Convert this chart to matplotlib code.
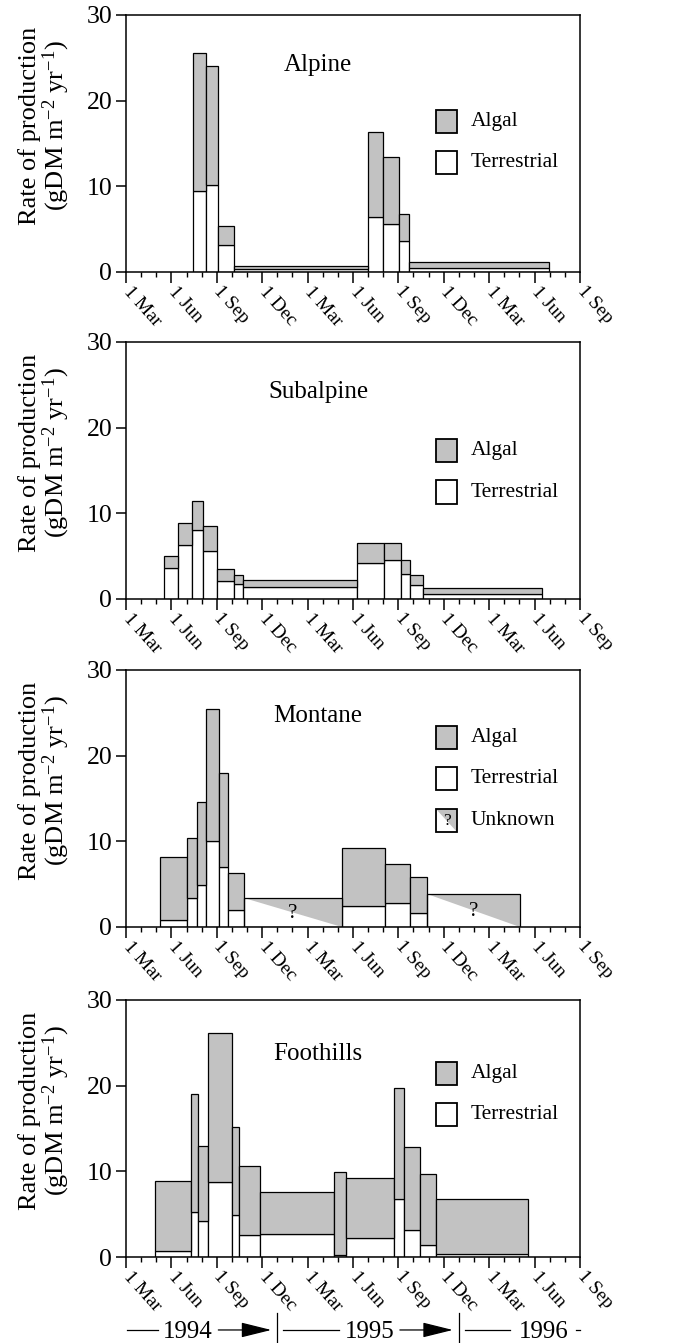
import numpy as np
import matplotlib
matplotlib.use("Agg")
import matplotlib.pyplot as plt
from matplotlib.patches import Polygon, Rectangle
from matplotlib.transforms import blended_transform_factory, ScaledTranslation

plt.rcParams['font.family'] = ['Liberation Serif', 'DejaVu Serif']
plt.rcParams['mathtext.fontset'] = 'custom'
plt.rcParams['mathtext.rm'] = 'Liberation Serif'
plt.rcParams['mathtext.it'] = 'Liberation Serif:italic'

GRAY = '#c2c2c2'

# x axis in months since 1 Mar 1994
tick_months = np.arange(0, 31, 3)
tick_labels = ['1 Mar', '1 Jun', '1 Sep', '1 Dec'] * 2 + ['1 Mar', '1 Jun', '1 Sep']

# interval edges (months), terrestrial and total production per interval
alpine_edges = [4.41, 5.29, 6.10, 7.14, 16.0, 16.98, 18.06, 18.70, 27.95]
alpine_terr = [9.4, 10.1, 3.1, 0.35, 6.4, 5.6, 3.6, 0.5]
alpine_total = [25.6, 24.0, 5.4, 0.7, 16.3, 13.4, 6.8, 1.2]

subalpine_edges = [2.53, 3.41, 4.34, 5.11, 6.01, 7.11, 7.73, 15.26, 17.07,
                   18.15, 18.79, 19.6, 27.51]
subalpine_terr = [3.6, 6.25, 8.0, 5.6, 2.15, 1.7, 1.4, 4.2, 4.6, 2.9, 1.65, 0.6]
subalpine_total = [5.0, 8.9, 11.45, 8.5, 3.5, 2.8, 2.2, 6.55, 6.55, 4.55, 2.85, 1.3]

# nan = terrestrial/algal split unknown
montane_edges = [2.27, 4.05, 4.69, 5.29, 6.15, 6.76, 7.80, 14.25, 17.14,
                 18.79, 19.91, 26.06]
montane_terr = [0.85, 3.35, 4.85, 10.0, 6.95, 2.0, np.nan, 2.45, 2.8, 1.65, np.nan]
montane_total = [8.15, 10.35, 14.55, 25.4, 18.0, 6.3, 3.4, 9.2, 7.3, 5.8, 3.9]

foothills_edges = [1.92, 4.30, 4.78, 5.40, 6.98, 7.49, 8.83, 13.77, 14.54,
                   17.73, 18.35, 19.43, 20.46, 26.56]
foothills_terr = [0.75, 5.2, 4.2, 8.8, 4.95, 2.6, 2.7, 0.25, 2.2, 6.75, 3.15, 1.4, 0.3]
foothills_total = [8.85, 19.0, 12.95, 26.1, 15.2, 10.6, 7.6, 9.9, 9.25, 19.75,
                   12.9, 9.75, 6.8]

years = ["1994", "1995", "1996"]

panels = [
    ("Alpine", alpine_edges, alpine_terr, alpine_total, 0.805, [0.541, 0.381]),
    ("Subalpine", subalpine_edges, subalpine_terr, subalpine_total, 0.805, [0.531, 0.371]),
    ("Montane", montane_edges, montane_terr, montane_total, 0.82, [0.691, 0.531, 0.369]),
    ("Foothills", foothills_edges, foothills_terr, foothills_total, 0.79, [0.668, 0.51]),
]

fig = plt.figure(figsize=(6.94, 13.43), dpi=100)
ax_left, ax_w, ax_h = 0.1816, 0.654, 0.1914
bottoms = [0.7975, 0.554, 0.3098, 0.064]

LW = 0.9


def draw_legend(ax, ys):
    x0, w, h = 0.683, 0.046, 0.09
    names = ["Algal", "Terrestrial", "Unknown"]
    for i, y in enumerate(ys):
        if i == 0:
            ax.add_patch(Rectangle((x0, y), w, h, transform=ax.transAxes,
                                   fc=GRAY, ec='black', lw=1.3, clip_on=False))
        elif i == 1:
            ax.add_patch(Rectangle((x0, y), w, h, transform=ax.transAxes,
                                   fc='white', ec='black', lw=1.3, clip_on=False))
        else:
            ax.add_patch(Polygon([(x0, y + h), (x0 + w, y + h), (x0 + w, y)],
                                 closed=True, transform=ax.transAxes,
                                 fc=GRAY, ec='none', clip_on=False))
            ax.add_patch(Rectangle((x0, y), w, h, transform=ax.transAxes,
                                   fill=False, ec='black', lw=1.3, clip_on=False))
            ax.text(x0 + w / 2, y + h / 2, "?", transform=ax.transAxes,
                    ha='center', va='center', fontsize=12.5)
        ax.text(0.760, y + h / 2, names[i], transform=ax.transAxes,
                ha='left', va='center', fontsize=15.5)


for (name, edges, terr, total, ty, leg_y), b in zip(panels, bottoms):
    ax = fig.add_axes([ax_left, b, ax_w, ax_h])
    edges = np.array(edges)
    terr = np.array(terr, dtype=float)
    total = np.array(total, dtype=float)
    left = edges[:-1]
    width = np.diff(edges)
    known = ~np.isnan(terr)

    ax.bar(left[known], terr[known], width[known], align='edge',
           color='white', edgecolor='black', lw=LW, zorder=2)
    ax.bar(left[known], total[known] - terr[known], width[known],
           bottom=terr[known], align='edge', color=GRAY, edgecolor='black',
           lw=LW, zorder=2)
    for l, w, t in zip(left[~known], width[~known], total[~known]):
        ax.add_patch(Polygon([(l, t), (l + w, t), (l + w, 0)], closed=True,
                             fc=GRAY, ec='none', zorder=2))
        ax.add_patch(Rectangle((l, 0), w, t, fill=False, ec='black', lw=LW,
                               zorder=3))
        ax.text(l + w / 2, t * 0.45, "?", ha='center', va='center',
                fontsize=15, zorder=4)

    ax.set_xlim(0, 30)
    ax.set_ylim(0, 30)
    ax.set_yticks([0, 10, 20, 30])
    ax.set_xticks(tick_months)
    ax.set_xticks(np.arange(0, 31, 1), minor=True)
    ax.set_xticklabels(tick_labels, rotation=-48, ha='left', va='center',
                       rotation_mode='anchor', fontsize=14)
    shift = ScaledTranslation(2 / 72, 0, fig.dpi_scale_trans)
    for lab in ax.get_xticklabels():
        lab.set_transform(lab.get_transform() + shift)
    ax.tick_params(axis='y', labelsize=18.5, length=7, width=1.1, pad=3)
    ax.tick_params(axis='x', which='major', length=8, width=1.1, pad=4)
    ax.tick_params(axis='x', which='minor', length=3.5, width=1.0)
    for s in ax.spines.values():
        s.set_linewidth(1.1)

    ax.set_ylabel('Rate of production\n(gDM m$^{-2}$ yr$^{-1}$)', fontsize=19,
                  linespacing=1.0, va='center')
    ax.yaxis.set_label_coords(-0.178, 0.57)

    ax.text(0.423, ty, name, transform=ax.transAxes, ha='center',
            va='center', fontsize=18)
    draw_legend(ax, leg_y)

# year timeline under the last panel
tr = blended_transform_factory(ax.transData, fig.transFigure)
yl = 0.0097
kw = dict(transform=tr, color='black', lw=0.9, clip_on=False)
ax.plot([0.04, 2.1], [yl, yl], **kw)
ax.plot([10.4, 14.1], [yl, yl], **kw)
ax.plot([22.4, 25.4], [yl, yl], **kw)
ax.plot([29.75, 30.0], [yl, yl], **kw)
for x in (10.0, 22.0):
    ax.plot([x, x], [0.0, 0.0223], **kw)
for x0, x1 in ((6.1, 9.6), (18.1, 21.6)):
    ax.annotate('', xy=(x1, yl), xytext=(x0, yl), xycoords=tr, textcoords=tr,
                arrowprops=dict(arrowstyle='-|>,head_length=1.05,head_width=0.26',
                                color='black', lw=0.9, mutation_scale=18,
                                shrinkA=0, shrinkB=0),
                annotation_clip=False)
for x, yr in zip((4.1, 16.1, 27.6), years):
    ax.text(x, yl - 0.0063, yr, transform=tr, ha='center', va='baseline',
            fontsize=18)

fig.savefig("out.png", dpi=100)
